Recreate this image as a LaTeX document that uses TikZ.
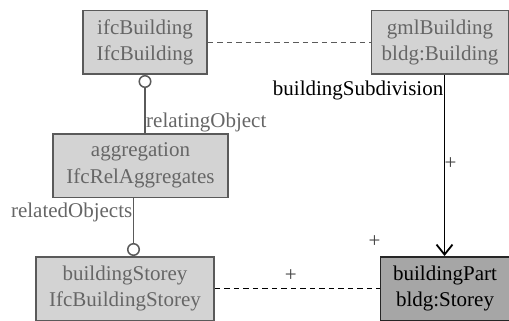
\documentclass[tikz,border=0pt]{standalone}
\usepackage{fontspec}
\setmainfont{Liberation Serif}
\usetikzlibrary{arrows.meta,calc,positioning}

\definecolor{boxgray}{HTML}{D3D3D3}
\definecolor{partgray}{HTML}{A6A6A6}
\definecolor{edgegray}{HTML}{5A5A5A}
\definecolor{textgray}{HTML}{666666}

\tikzset{
  umlbox/.style={draw=edgegray, line width=1.5pt, fill=boxgray, text=textgray,
    align=center, inner sep=0pt, minimum height=63.5pt,
    font=\fontsize{21}{26.5}\selectfont},
  partbox/.style={umlbox, draw=black!85, fill=partgray, text=black},
  ifcline/.style={draw=edgegray, line width=1.5pt},
  gmlline/.style={draw=black, line width=1.8pt},
  maplink/.style={line width=1.3pt, dash pattern=on 5.5pt off 4pt},
  rolelabel/.style={inner sep=1pt, font=\fontsize{21}{25}\selectfont},
}

\begin{document}
\begin{tikzpicture}

  \useasboundingbox (0,0) rectangle (509pt,-321pt);

  \node[umlbox, minimum width=124pt] (ifc) at (145pt,-42.5pt) {ifcBuilding\\IfcBuilding};
  \node[umlbox, minimum width=137pt, right=163pt of ifc] (gml) {gmlBuilding\\bldg:Building};
  \node[umlbox, minimum width=175pt, below=58pt of ifc, xshift=-4.5pt] (agg) {aggregation\\IfcRelAggregates};
  \node[umlbox, minimum width=178pt, below=58pt of agg, xshift=-15.5pt] (store) {buildingStorey\\IfcBuildingStorey};
  \node[partbox, minimum width=129pt, right=165pt of store] (part) {buildingPart\\bldg:Storey};

  \coordinate (m) at ($(agg.west)!0.5!(store.east)$);
  \coordinate (n) at ($(part.west)!0.5!(gml.east)$);

  \draw[ifcline, {Circle[open,length=13pt,width=13pt]}-] (ifc.south) -- (ifc.south |- agg.north);
  \draw[ifcline, -{Circle[open,length=13pt,width=13pt]}] (agg.south -| m) -- (store.north -| m);
  \draw[gmlline, -{Straight Barb[length=10pt,width=16pt]}] (gml.south -| n) -- (part.north -| n);

  \draw[maplink, edgegray] (ifc.east) -- (ifc.east -| gml.west);
  \draw[maplink, black] (store.east) -- (part.west);

  \node[rolelabel, text=textgray, anchor=south west] (relating) at (ifc.south |- agg.north) {relatingObject};
  \node[rolelabel, text=textgray, anchor=east] (related) at ($(agg.south -| m)+(0,-14pt)$) {relatedObjects};
  \node[rolelabel, anchor=east] (subdiv) at ($(gml.south -| n)+(0,-15.5pt)$) {buildingSubdivision};

  \node[rolelabel, text=black!75] (plusa) at ($(part.north -| n)+(6pt,92pt)$) {+};
  \node[rolelabel, text=black!75] (plusb) at ($(part.north -| n)+(-70pt,14pt)$) {+};
  \node[rolelabel, text=black!75] (plusc) at ($(store.east)+(76pt,13pt)$) {+};

\end{tikzpicture}
\end{document}
